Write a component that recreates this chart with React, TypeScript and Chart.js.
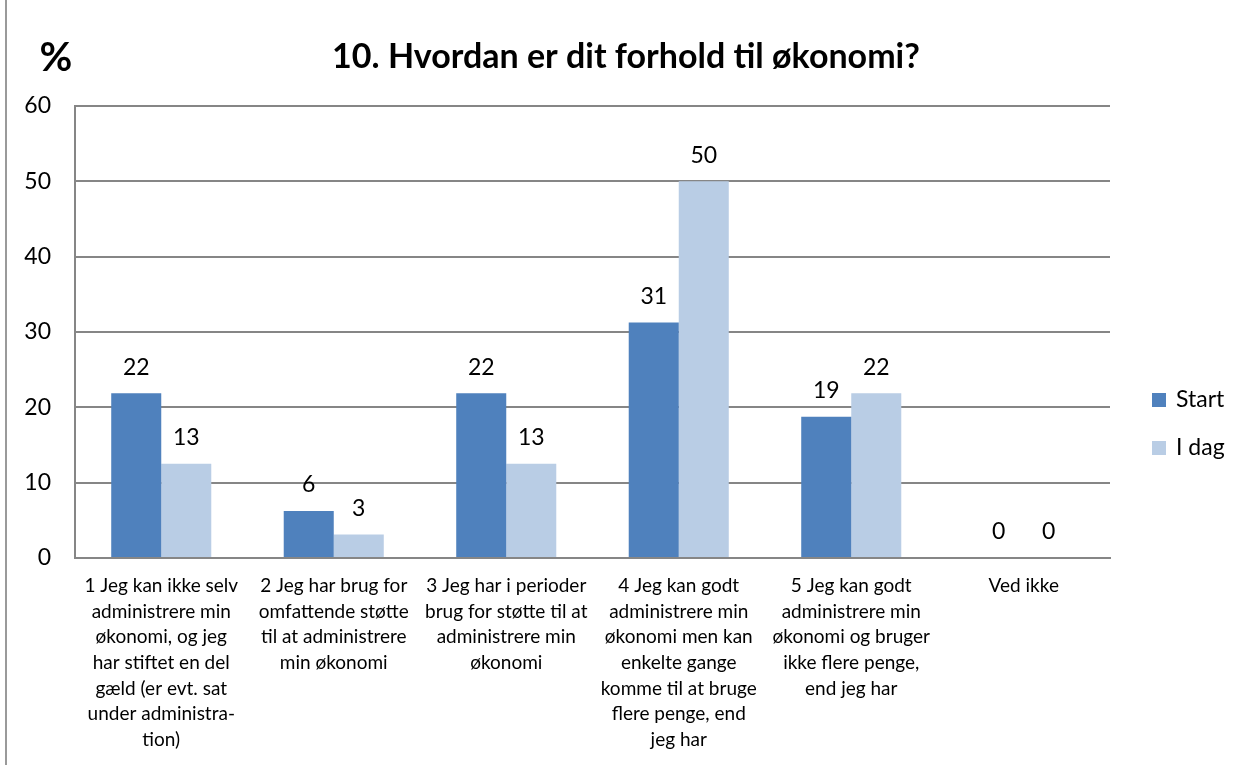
import React, { useEffect, useRef } from "react";
import { Chart, registerables } from "chart.js";

Chart.register(...registerables);

const categories: string[][] = [
  ["1 Jeg kan ikke selv", "administrere min", "økonomi, og jeg", "har stiftet en del", "gæld (er evt. sat", "under administra-", "tion)"],
  ["2 Jeg har brug for", "omfattende støtte", "til at administrere", "min økonomi"],
  ["3 Jeg har i perioder", "brug for støtte til at", "administrere min", "økonomi"],
  ["4 Jeg kan godt", "administrere min", "økonomi men kan", "enkelte gange", "komme til at bruge", "flere penge, end", "jeg har"],
  ["5 Jeg kan godt", "administrere min", "økonomi og bruger", "ikke flere penge,", "end jeg har"],
  ["Ved ikke"],
];
const startValues = [21.875, 6.25, 21.875, 31.25, 18.75, 0];
const idagValues = [12.5, 3.125, 12.5, 50, 21.875, 0];
const seriesNames = ["Start", "I dag"];
const yTicks = [0, 10, 20, 30, 40, 50, 60];
const titleText = "10. Hvordan er dit forhold til økonomi?";
const unitText = "%";

const FONT = "Lato, 'Open Sans', sans-serif";
const COLORS = ["#4F81BD", "#B9CDE5"];

const decorPlugin = {
  id: "decor",
  beforeDraw(chart: any) {
    const ctx = chart.ctx;
    ctx.save();
    ctx.strokeStyle = "#9a9a9a";
    ctx.lineWidth = 2;
    ctx.beginPath();
    ctx.moveTo(6, 0);
    ctx.lineTo(6, chart.height);
    ctx.stroke();
    ctx.restore();
  },
  afterDraw(chart: any) {
    const ctx = chart.ctx;
    const area = chart.chartArea;
    ctx.save();
    // title
    ctx.fillStyle = "#000";
    ctx.textAlign = "center";
    ctx.textBaseline = "middle";
    ctx.font = `bold 34px ${FONT}`;
    ctx.fillText(titleText, 626, 57);
    ctx.font = `bold 40px ${FONT}`;
    ctx.fillText(unitText, 56, 58);
    // value labels
    ctx.font = `23px ${FONT}`;
    chart.data.datasets.forEach((ds: any, di: number) => {
      const meta = chart.getDatasetMeta(di);
      meta.data.forEach((bar: any, i: number) => {
        const v = ds.data[i];
        ctx.fillText(String(Math.round(v)), bar.x, bar.y - 26);
      });
    });
    // legend
    const midY = (area.top + area.bottom) / 2;
    chart.data.datasets.forEach((ds: any, di: number) => {
      const cy = midY + 68 + di * 48;
      ctx.fillStyle = ds.backgroundColor;
      ctx.fillRect(area.right + 42, cy - 7, 14, 14);
      ctx.fillStyle = "#000";
      ctx.textAlign = "left";
      ctx.font = `23px ${FONT}`;
      ctx.fillText(ds.label, area.right + 66, cy);
    });
    ctx.restore();
  },
};

function BarChart() {
  const ref = useRef<HTMLCanvasElement | null>(null);
  useEffect(() => {
    if (!ref.current) return;
    const chart = new Chart(ref.current, {
      type: "bar",
      data: {
        labels: categories,
        datasets: [
          { label: seriesNames[0], data: startValues, backgroundColor: COLORS[0] },
          { label: seriesNames[1], data: idagValues, backgroundColor: COLORS[1] },
        ],
      },
      options: {
        animation: false,
        responsive: false,
        maintainAspectRatio: false,
        layout: { padding: { left: 0, top: 106, right: 141, bottom: 0 } },
        plugins: {
          legend: { display: false },
          title: { display: false },
          tooltip: { enabled: false },
        },
        datasets: { bar: { barPercentage: 1, categoryPercentage: 0.58 } },
        scales: {
          x: {
            grid: { display: false, drawTicks: false },
            border: { display: true, color: "#868686", width: 2 },
            ticks: {
              color: "#000",
              font: { family: FONT, size: 19, lineHeight: 1.35 },
              padding: 15,
              maxRotation: 0,
              autoSkip: false,
            },
            afterFit(scale: any) {
              scale.height = 207;
            },
          },
          y: {
            min: 0,
            max: 60,
            afterBuildTicks(scale: any) {
              scale.ticks = yTicks.map((v) => ({ value: v }));
            },
            grid: { color: "#868686", lineWidth: 2, drawTicks: false },
            border: { display: true, color: "#868686", width: 2 },
            ticks: {
              color: "#000",
              font: { family: FONT, size: 23 },
              padding: 24,
            },
            afterFit(scale: any) {
              scale.width = 75;
            },
          },
        },
      },
      plugins: [decorPlugin],
    });
    return () => chart.destroy();
  }, []);
  return <canvas ref={ref} width={1251} height={765} style={{ display: "block" }} />;
}

export default function App() {
  return (
    <div style={{ position: "absolute", left: 0, top: 0, width: 1251, height: 765, background: "#fff" }}>
      <BarChart />
    </div>
  );
}
